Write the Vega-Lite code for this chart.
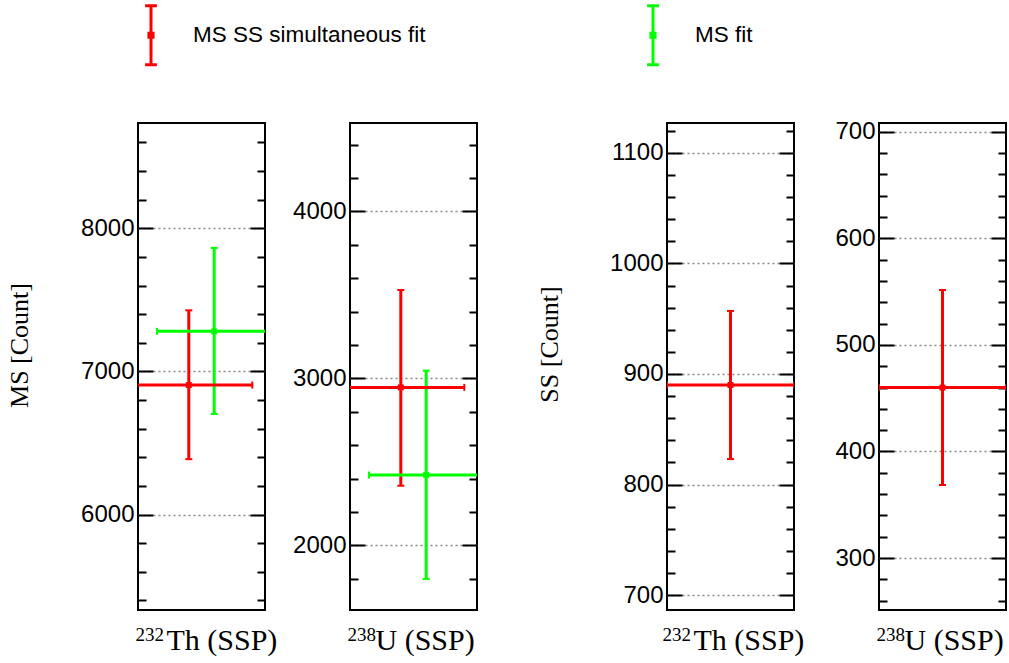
{
"$schema":"https://vega.github.io/schema/vega-lite/v6.json",
"background":"white",
"padding":{"left":5,"top":4,"right":0,"bottom":0},
"datasets":{"pts":[
{"panel":"MSTh","series":"MS SS simultaneous fit","x":0.4,"xlo":-0.1,"xhi":0.9,"y":6905,"ylo":6387,"yhi":7427},
{"panel":"MSTh","series":"MS fit","x":0.6,"xlo":0.15,"xhi":1.05,"y":7280,"ylo":6703,"yhi":7863},
{"panel":"MSU","series":"MS SS simultaneous fit","x":0.4,"xlo":-0.1,"xhi":0.9,"y":2946,"ylo":2357,"yhi":3529},
{"panel":"MSU","series":"MS fit","x":0.6,"xlo":0.15,"xhi":1.05,"y":2421,"ylo":1799,"yhi":3046},
{"panel":"SSTh","series":"MS SS simultaneous fit","x":0.5,"xlo":0,"xhi":1,"y":890,"ylo":823,"yhi":957},
{"panel":"SSU","series":"MS SS simultaneous fit","x":0.5,"xlo":0,"xhi":1,"y":460,"ylo":368.5,"yhi":551.6}
]},
"spacing":85,
"bounds":"flush",
"hconcat":[
{"width":127,"height":487,"data":{"name":"pts"},"transform":[{"filter":"datum.panel === 'MSTh'"}],
 "resolve":{"axis":{"x":"independent","y":"independent"}},
 "layer":[
  {"mark":{"type":"rule","strokeWidth":3,"clip":true},
   "encoding":{
    "x":{"field":"x","type":"quantitative","scale":{"domain":[0,1],"nice":false,"zero":false},"axis":{"orient":"bottom","labels":false,"ticks":false,"domain":false,"grid":false,"title":"Th (SSP)","titleFont":"Liberation Serif","titleFontSize":30,"titleFontWeight":"normal","titleColor":"black","titleAlign":"left","titleBaseline":"alphabetic","titleX":28,"titleY":39.5}},
    "y":{"field":"ylo","type":"quantitative","scale":{"domain":[5333,8736],"nice":false,"zero":false},"axis":{"orient":"left","values":[6000,7000,8000],"format":"d","domain":false,"tickSize":-15,"tickWidth":2,"tickColor":"black","labelPadding":19,"labelFont":"Liberation Sans","labelFontSize":24,"labelColor":"black","grid":true,"gridColor":"#888888","gridDash":[2,3],"gridWidth":1.5,"title":"MS [Count]","titleFont":"Liberation Serif","titleFontSize":26,"titleFontWeight":"normal","titleColor":"black","titleX":-119,"titleY":222,"titleAngle":270,"titleAlign":"center","titleBaseline":"middle"}},
    "y2":{"field":"yhi"},
    "color":{"field":"series","type":"nominal","scale":{"domain":["MS SS simultaneous fit","MS fit"],"range":["#ff0000","#00ff00"]},
      "legend":{"title":null,"orient":"none","legendX":-18,"legendY":-119,"direction":"horizontal","columns":2,"columnPadding":196,"symbolType":"M0,-1L0,1M-0.2,-1L0.2,-1M-0.2,1L0.2,1M-0.07,-0.07L0.07,-0.07L0.07,0.07L-0.07,0.07Z","symbolSize":3481,"symbolStrokeWidth":3,"symbolOpacity":1,"labelFont":"Liberation Sans","labelFontSize":22.5,"labelColor":"black","labelOffset":11,"padding":0,"labelLimit":400}}}},
  {"mark":{"type":"rule","strokeWidth":3,"clip":true},
   "encoding":{
    "x":{"field":"xlo","type":"quantitative","scale":{"domain":[0,1],"nice":false,"zero":false},"axis":{"orient":"bottom","labels":false,"ticks":false,"domain":false,"grid":false,"title":"232","titleFont":"Liberation Serif","titleFontSize":19,"titleFontWeight":"normal","titleColor":"black","titleAlign":"left","titleBaseline":"alphabetic","titleX":-3,"titleY":30}},
    "x2":{"field":"xhi"},
    "y":{"field":"y","type":"quantitative","scale":{"domain":[5333,8736],"nice":false,"zero":false},"axis":{"orient":"right","values":[6000,7000,8000],"domain":false,"labels":false,"grid":false,"tickSize":-15,"tickWidth":2,"tickColor":"black","title":null}},
    "color":{"field":"series","type":"nominal","scale":{"domain":["MS SS simultaneous fit","MS fit"],"range":["#ff0000","#00ff00"]},"legend":null}}},
  {"mark":{"type":"tick","orient":"horizontal","size":7,"thickness":2,"opacity":1,"clip":true},
   "encoding":{
    "x":{"field":"x","type":"quantitative","scale":{"domain":[0,1],"nice":false,"zero":false},"axis":null},
    "y":{"field":"yhi","type":"quantitative","scale":{"domain":[5333,8736],"nice":false,"zero":false},"axis":{"orient":"left","values":[5400,5600,5800,6200,6400,6600,6800,7200,7400,7600,7800,8200,8400,8600],"domain":false,"labels":false,"grid":false,"tickSize":-8,"tickWidth":2,"tickColor":"black","title":null}},
    "color":{"field":"series","type":"nominal","scale":{"domain":["MS SS simultaneous fit","MS fit"],"range":["#ff0000","#00ff00"]},"legend":null}}},
  {"mark":{"type":"tick","orient":"horizontal","size":7,"thickness":2,"opacity":1,"clip":true},
   "encoding":{
    "x":{"field":"x","type":"quantitative","scale":{"domain":[0,1],"nice":false,"zero":false},"axis":null},
    "y":{"field":"ylo","type":"quantitative","scale":{"domain":[5333,8736],"nice":false,"zero":false},"axis":{"orient":"right","values":[5400,5600,5800,6200,6400,6600,6800,7200,7400,7600,7800,8200,8400,8600],"domain":false,"labels":false,"grid":false,"tickSize":-8,"tickWidth":2,"tickColor":"black","title":null}},
    "color":{"field":"series","type":"nominal","scale":{"domain":["MS SS simultaneous fit","MS fit"],"range":["#ff0000","#00ff00"]},"legend":null}}},
  {"mark":{"type":"tick","orient":"vertical","size":7,"thickness":2,"opacity":1,"clip":true},
   "encoding":{
    "x":{"field":"xhi","type":"quantitative","scale":{"domain":[0,1],"nice":false,"zero":false},"axis":null},
    "y":{"field":"y","type":"quantitative","scale":{"domain":[5333,8736],"nice":false,"zero":false},"axis":null},
    "color":{"field":"series","type":"nominal","scale":{"domain":["MS SS simultaneous fit","MS fit"],"range":["#ff0000","#00ff00"]},"legend":null}}},
  {"mark":{"type":"tick","orient":"vertical","size":7,"thickness":2,"opacity":1,"clip":true},
   "encoding":{
    "x":{"field":"xlo","type":"quantitative","scale":{"domain":[0,1],"nice":false,"zero":false},"axis":null},
    "y":{"field":"y","type":"quantitative","scale":{"domain":[5333,8736],"nice":false,"zero":false},"axis":null},
    "color":{"field":"series","type":"nominal","scale":{"domain":["MS SS simultaneous fit","MS fit"],"range":["#ff0000","#00ff00"]},"legend":null}}},
  {"mark":{"type":"square","size":36,"filled":true,"opacity":1,"clip":true},
   "encoding":{
    "x":{"field":"x","type":"quantitative","scale":{"domain":[0,1],"nice":false,"zero":false},"axis":null},
    "y":{"field":"y","type":"quantitative","scale":{"domain":[5333,8736],"nice":false,"zero":false},"axis":null},
    "color":{"field":"series","type":"nominal","scale":{"domain":["MS SS simultaneous fit","MS fit"],"range":["#ff0000","#00ff00"]},"legend":null}}}
 ]},
{"width":127,"height":487,"data":{"name":"pts"},"transform":[{"filter":"datum.panel === 'MSU'"}],
 "resolve":{"axis":{"x":"independent","y":"independent"}},
 "layer":[
  {"mark":{"type":"rule","strokeWidth":3,"clip":true},
   "encoding":{
    "x":{"field":"x","type":"quantitative","scale":{"domain":[0,1],"nice":false,"zero":false},"axis":{"orient":"bottom","labels":false,"ticks":false,"domain":false,"grid":false,"title":"U (SSP)","titleFont":"Liberation Serif","titleFontSize":30,"titleFontWeight":"normal","titleColor":"black","titleAlign":"left","titleBaseline":"alphabetic","titleX":25,"titleY":39.5}},
    "y":{"field":"ylo","type":"quantitative","scale":{"domain":[1613,4529],"nice":false,"zero":false},"axis":{"orient":"left","values":[2000,3000,4000],"format":"d","domain":false,"tickSize":-15,"tickWidth":2,"tickColor":"black","labelPadding":19,"labelFont":"Liberation Sans","labelFontSize":24,"labelColor":"black","grid":true,"gridColor":"#888888","gridDash":[2,3],"gridWidth":1.5,"title":null}},
    "y2":{"field":"yhi"},
    "color":{"field":"series","type":"nominal","scale":{"domain":["MS SS simultaneous fit","MS fit"],"range":["#ff0000","#00ff00"]},"legend":null}}},
  {"mark":{"type":"rule","strokeWidth":3,"clip":true},
   "encoding":{
    "x":{"field":"xlo","type":"quantitative","scale":{"domain":[0,1],"nice":false,"zero":false},"axis":{"orient":"bottom","labels":false,"ticks":false,"domain":false,"grid":false,"title":"238","titleFont":"Liberation Serif","titleFontSize":19,"titleFontWeight":"normal","titleColor":"black","titleAlign":"left","titleBaseline":"alphabetic","titleX":-3,"titleY":30}},
    "x2":{"field":"xhi"},
    "y":{"field":"y","type":"quantitative","scale":{"domain":[1613,4529],"nice":false,"zero":false},"axis":{"orient":"right","values":[2000,3000,4000],"domain":false,"labels":false,"grid":false,"tickSize":-15,"tickWidth":2,"tickColor":"black","title":null}},
    "color":{"field":"series","type":"nominal","scale":{"domain":["MS SS simultaneous fit","MS fit"],"range":["#ff0000","#00ff00"]},"legend":null}}},
  {"mark":{"type":"tick","orient":"horizontal","size":7,"thickness":2,"opacity":1,"clip":true},
   "encoding":{
    "x":{"field":"x","type":"quantitative","scale":{"domain":[0,1],"nice":false,"zero":false},"axis":null},
    "y":{"field":"yhi","type":"quantitative","scale":{"domain":[1613,4529],"nice":false,"zero":false},"axis":{"orient":"left","values":[1800,2200,2400,2600,2800,3200,3400,3600,3800,4200,4400],"domain":false,"labels":false,"grid":false,"tickSize":-8,"tickWidth":2,"tickColor":"black","title":null}},
    "color":{"field":"series","type":"nominal","scale":{"domain":["MS SS simultaneous fit","MS fit"],"range":["#ff0000","#00ff00"]},"legend":null}}},
  {"mark":{"type":"tick","orient":"horizontal","size":7,"thickness":2,"opacity":1,"clip":true},
   "encoding":{
    "x":{"field":"x","type":"quantitative","scale":{"domain":[0,1],"nice":false,"zero":false},"axis":null},
    "y":{"field":"ylo","type":"quantitative","scale":{"domain":[1613,4529],"nice":false,"zero":false},"axis":{"orient":"right","values":[1800,2200,2400,2600,2800,3200,3400,3600,3800,4200,4400],"domain":false,"labels":false,"grid":false,"tickSize":-8,"tickWidth":2,"tickColor":"black","title":null}},
    "color":{"field":"series","type":"nominal","scale":{"domain":["MS SS simultaneous fit","MS fit"],"range":["#ff0000","#00ff00"]},"legend":null}}},
  {"mark":{"type":"tick","orient":"vertical","size":7,"thickness":2,"opacity":1,"clip":true},
   "encoding":{
    "x":{"field":"xhi","type":"quantitative","scale":{"domain":[0,1],"nice":false,"zero":false},"axis":null},
    "y":{"field":"y","type":"quantitative","scale":{"domain":[1613,4529],"nice":false,"zero":false},"axis":null},
    "color":{"field":"series","type":"nominal","scale":{"domain":["MS SS simultaneous fit","MS fit"],"range":["#ff0000","#00ff00"]},"legend":null}}},
  {"mark":{"type":"tick","orient":"vertical","size":7,"thickness":2,"opacity":1,"clip":true},
   "encoding":{
    "x":{"field":"xlo","type":"quantitative","scale":{"domain":[0,1],"nice":false,"zero":false},"axis":null},
    "y":{"field":"y","type":"quantitative","scale":{"domain":[1613,4529],"nice":false,"zero":false},"axis":null},
    "color":{"field":"series","type":"nominal","scale":{"domain":["MS SS simultaneous fit","MS fit"],"range":["#ff0000","#00ff00"]},"legend":null}}},
  {"mark":{"type":"square","size":36,"filled":true,"opacity":1,"clip":true},
   "encoding":{
    "x":{"field":"x","type":"quantitative","scale":{"domain":[0,1],"nice":false,"zero":false},"axis":null},
    "y":{"field":"y","type":"quantitative","scale":{"domain":[1613,4529],"nice":false,"zero":false},"axis":null},
    "color":{"field":"series","type":"nominal","scale":{"domain":["MS SS simultaneous fit","MS fit"],"range":["#ff0000","#00ff00"]},"legend":null}}}
 ]},
{"width":20,"height":487,"data":{"values":[{"s":""}]},"view":{"stroke":"transparent"},"mark":{"type":"text"},"encoding":{"text":{"field":"s"}}},
{"width":127,"height":487,"data":{"name":"pts"},"transform":[{"filter":"datum.panel === 'SSTh'"}],
 "resolve":{"axis":{"x":"independent","y":"independent"}},
 "layer":[
  {"mark":{"type":"rule","strokeWidth":3,"clip":true},
   "encoding":{
    "x":{"field":"x","type":"quantitative","scale":{"domain":[0,1],"nice":false,"zero":false},"axis":{"orient":"bottom","labels":false,"ticks":false,"domain":false,"grid":false,"title":"Th (SSP)","titleFont":"Liberation Serif","titleFontSize":30,"titleFontWeight":"normal","titleColor":"black","titleAlign":"left","titleBaseline":"alphabetic","titleX":26,"titleY":39.5}},
    "y":{"field":"ylo","type":"quantitative","scale":{"domain":[686.5,1127],"nice":false,"zero":false},"axis":{"orient":"left","values":[700,800,900,1000,1100],"format":"d","domain":false,"tickSize":-15,"tickWidth":2,"tickColor":"black","labelPadding":19,"labelFont":"Liberation Sans","labelFontSize":24,"labelColor":"black","grid":true,"gridColor":"#888888","gridDash":[2,3],"gridWidth":1.5,"title":"SS [Count]","titleFont":"Liberation Serif","titleFontSize":26,"titleFontWeight":"normal","titleColor":"black","titleX":-118,"titleY":221,"titleAngle":270,"titleAlign":"center","titleBaseline":"middle"}},
    "y2":{"field":"yhi"},
    "color":{"field":"series","type":"nominal","scale":{"domain":["MS SS simultaneous fit","MS fit"],"range":["#ff0000","#00ff00"]},"legend":null}}},
  {"mark":{"type":"rule","strokeWidth":3,"clip":true},
   "encoding":{
    "x":{"field":"xlo","type":"quantitative","scale":{"domain":[0,1],"nice":false,"zero":false},"axis":{"orient":"bottom","labels":false,"ticks":false,"domain":false,"grid":false,"title":"232","titleFont":"Liberation Serif","titleFontSize":19,"titleFontWeight":"normal","titleColor":"black","titleAlign":"left","titleBaseline":"alphabetic","titleX":-5,"titleY":30}},
    "x2":{"field":"xhi"},
    "y":{"field":"y","type":"quantitative","scale":{"domain":[686.5,1127],"nice":false,"zero":false},"axis":{"orient":"right","values":[700,800,900,1000,1100],"domain":false,"labels":false,"grid":false,"tickSize":-15,"tickWidth":2,"tickColor":"black","title":null}},
    "color":{"field":"series","type":"nominal","scale":{"domain":["MS SS simultaneous fit","MS fit"],"range":["#ff0000","#00ff00"]},"legend":null}}},
  {"mark":{"type":"tick","orient":"horizontal","size":7,"thickness":2,"opacity":1,"clip":true},
   "encoding":{
    "x":{"field":"x","type":"quantitative","scale":{"domain":[0,1],"nice":false,"zero":false},"axis":null},
    "y":{"field":"yhi","type":"quantitative","scale":{"domain":[686.5,1127],"nice":false,"zero":false},"axis":{"orient":"left","values":[720,740,760,780,820,840,860,880,920,940,960,980,1020,1040,1060,1080,1120],"domain":false,"labels":false,"grid":false,"tickSize":-8,"tickWidth":2,"tickColor":"black","title":null}},
    "color":{"field":"series","type":"nominal","scale":{"domain":["MS SS simultaneous fit","MS fit"],"range":["#ff0000","#00ff00"]},"legend":null}}},
  {"mark":{"type":"tick","orient":"horizontal","size":7,"thickness":2,"opacity":1,"clip":true},
   "encoding":{
    "x":{"field":"x","type":"quantitative","scale":{"domain":[0,1],"nice":false,"zero":false},"axis":null},
    "y":{"field":"ylo","type":"quantitative","scale":{"domain":[686.5,1127],"nice":false,"zero":false},"axis":{"orient":"right","values":[720,740,760,780,820,840,860,880,920,940,960,980,1020,1040,1060,1080,1120],"domain":false,"labels":false,"grid":false,"tickSize":-8,"tickWidth":2,"tickColor":"black","title":null}},
    "color":{"field":"series","type":"nominal","scale":{"domain":["MS SS simultaneous fit","MS fit"],"range":["#ff0000","#00ff00"]},"legend":null}}},
  {"mark":{"type":"tick","orient":"vertical","size":7,"thickness":2,"opacity":1,"clip":true},
   "encoding":{
    "x":{"field":"xhi","type":"quantitative","scale":{"domain":[0,1],"nice":false,"zero":false},"axis":null},
    "y":{"field":"y","type":"quantitative","scale":{"domain":[686.5,1127],"nice":false,"zero":false},"axis":null},
    "color":{"field":"series","type":"nominal","scale":{"domain":["MS SS simultaneous fit","MS fit"],"range":["#ff0000","#00ff00"]},"legend":null}}},
  {"mark":{"type":"tick","orient":"vertical","size":7,"thickness":2,"opacity":1,"clip":true},
   "encoding":{
    "x":{"field":"xlo","type":"quantitative","scale":{"domain":[0,1],"nice":false,"zero":false},"axis":null},
    "y":{"field":"y","type":"quantitative","scale":{"domain":[686.5,1127],"nice":false,"zero":false},"axis":null},
    "color":{"field":"series","type":"nominal","scale":{"domain":["MS SS simultaneous fit","MS fit"],"range":["#ff0000","#00ff00"]},"legend":null}}},
  {"mark":{"type":"square","size":36,"filled":true,"opacity":1,"clip":true},
   "encoding":{
    "x":{"field":"x","type":"quantitative","scale":{"domain":[0,1],"nice":false,"zero":false},"axis":null},
    "y":{"field":"y","type":"quantitative","scale":{"domain":[686.5,1127],"nice":false,"zero":false},"axis":null},
    "color":{"field":"series","type":"nominal","scale":{"domain":["MS SS simultaneous fit","MS fit"],"range":["#ff0000","#00ff00"]},"legend":null}}}
 ]},
{"width":127,"height":487,"data":{"name":"pts"},"transform":[{"filter":"datum.panel === 'SSU'"}],
 "resolve":{"axis":{"x":"independent","y":"independent"}},
 "layer":[
  {"mark":{"type":"rule","strokeWidth":3,"clip":true},
   "encoding":{
    "x":{"field":"x","type":"quantitative","scale":{"domain":[0,1],"nice":false,"zero":false},"axis":{"orient":"bottom","labels":false,"ticks":false,"domain":false,"grid":false,"title":"U (SSP)","titleFont":"Liberation Serif","titleFontSize":30,"titleFontWeight":"normal","titleColor":"black","titleAlign":"left","titleBaseline":"alphabetic","titleX":25,"titleY":39.5}},
    "y":{"field":"ylo","type":"quantitative","scale":{"domain":[251.2,708.3],"nice":false,"zero":false},"axis":{"orient":"left","values":[300,400,500,600,700],"format":"d","domain":false,"tickSize":-15,"tickWidth":2,"tickColor":"black","labelPadding":19,"labelFont":"Liberation Sans","labelFontSize":24,"labelColor":"black","grid":true,"gridColor":"#888888","gridDash":[2,3],"gridWidth":1.5,"title":null}},
    "y2":{"field":"yhi"},
    "color":{"field":"series","type":"nominal","scale":{"domain":["MS SS simultaneous fit","MS fit"],"range":["#ff0000","#00ff00"]},"legend":null}}},
  {"mark":{"type":"rule","strokeWidth":3,"clip":true},
   "encoding":{
    "x":{"field":"xlo","type":"quantitative","scale":{"domain":[0,1],"nice":false,"zero":false},"axis":{"orient":"bottom","labels":false,"ticks":false,"domain":false,"grid":false,"title":"238","titleFont":"Liberation Serif","titleFontSize":19,"titleFontWeight":"normal","titleColor":"black","titleAlign":"left","titleBaseline":"alphabetic","titleX":-3,"titleY":30}},
    "x2":{"field":"xhi"},
    "y":{"field":"y","type":"quantitative","scale":{"domain":[251.2,708.3],"nice":false,"zero":false},"axis":{"orient":"right","values":[300,400,500,600,700],"domain":false,"labels":false,"grid":false,"tickSize":-15,"tickWidth":2,"tickColor":"black","title":null}},
    "color":{"field":"series","type":"nominal","scale":{"domain":["MS SS simultaneous fit","MS fit"],"range":["#ff0000","#00ff00"]},"legend":null}}},
  {"mark":{"type":"tick","orient":"horizontal","size":7,"thickness":2,"opacity":1,"clip":true},
   "encoding":{
    "x":{"field":"x","type":"quantitative","scale":{"domain":[0,1],"nice":false,"zero":false},"axis":null},
    "y":{"field":"yhi","type":"quantitative","scale":{"domain":[251.2,708.3],"nice":false,"zero":false},"axis":{"orient":"left","values":[260,280,320,340,360,380,420,440,460,480,520,540,560,580,620,640,660,680],"domain":false,"labels":false,"grid":false,"tickSize":-8,"tickWidth":2,"tickColor":"black","title":null}},
    "color":{"field":"series","type":"nominal","scale":{"domain":["MS SS simultaneous fit","MS fit"],"range":["#ff0000","#00ff00"]},"legend":null}}},
  {"mark":{"type":"tick","orient":"horizontal","size":7,"thickness":2,"opacity":1,"clip":true},
   "encoding":{
    "x":{"field":"x","type":"quantitative","scale":{"domain":[0,1],"nice":false,"zero":false},"axis":null},
    "y":{"field":"ylo","type":"quantitative","scale":{"domain":[251.2,708.3],"nice":false,"zero":false},"axis":{"orient":"right","values":[260,280,320,340,360,380,420,440,460,480,520,540,560,580,620,640,660,680],"domain":false,"labels":false,"grid":false,"tickSize":-8,"tickWidth":2,"tickColor":"black","title":null}},
    "color":{"field":"series","type":"nominal","scale":{"domain":["MS SS simultaneous fit","MS fit"],"range":["#ff0000","#00ff00"]},"legend":null}}},
  {"mark":{"type":"tick","orient":"vertical","size":7,"thickness":2,"opacity":1,"clip":true},
   "encoding":{
    "x":{"field":"xhi","type":"quantitative","scale":{"domain":[0,1],"nice":false,"zero":false},"axis":null},
    "y":{"field":"y","type":"quantitative","scale":{"domain":[251.2,708.3],"nice":false,"zero":false},"axis":null},
    "color":{"field":"series","type":"nominal","scale":{"domain":["MS SS simultaneous fit","MS fit"],"range":["#ff0000","#00ff00"]},"legend":null}}},
  {"mark":{"type":"tick","orient":"vertical","size":7,"thickness":2,"opacity":1,"clip":true},
   "encoding":{
    "x":{"field":"xlo","type":"quantitative","scale":{"domain":[0,1],"nice":false,"zero":false},"axis":null},
    "y":{"field":"y","type":"quantitative","scale":{"domain":[251.2,708.3],"nice":false,"zero":false},"axis":null},
    "color":{"field":"series","type":"nominal","scale":{"domain":["MS SS simultaneous fit","MS fit"],"range":["#ff0000","#00ff00"]},"legend":null}}},
  {"mark":{"type":"square","size":36,"filled":true,"opacity":1,"clip":true},
   "encoding":{
    "x":{"field":"x","type":"quantitative","scale":{"domain":[0,1],"nice":false,"zero":false},"axis":null},
    "y":{"field":"y","type":"quantitative","scale":{"domain":[251.2,708.3],"nice":false,"zero":false},"axis":null},
    "color":{"field":"series","type":"nominal","scale":{"domain":["MS SS simultaneous fit","MS fit"],"range":["#ff0000","#00ff00"]},"legend":null}}}
 ]}
],
"config":{"view":{"stroke":"black","strokeWidth":2}}
}
